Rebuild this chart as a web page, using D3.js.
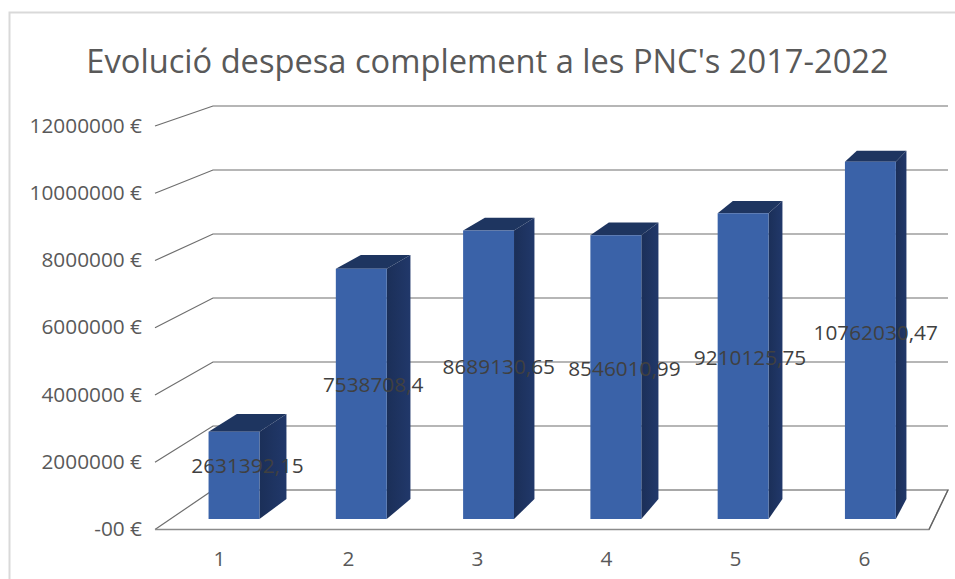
<!DOCTYPE html>
<html><head><meta charset="utf-8">
<script src="https://cdnjs.cloudflare.com/ajax/libs/d3/7.8.5/d3.min.js"></script>
<style>html,body{margin:0;padding:0;background:#fff}svg{display:block}text{font-family:"Open Sans",sans-serif}</style>
</head><body><div id="c"></div>
<script>
const title = "Evolució despesa complement a les PNC's 2017-2022";
const categories = ["1","2","3","4","5","6"];
const values = [2631392.15, 7538708.4, 8689130.65, 8546010.99, 9210125.75, 10762030.47];
const valueLabels = ["2631392,15","7538708,4","8689130,65","8546010,99","9210125,75","10762030,47"];
const ticks = [0,2000000,4000000,6000000,8000000,10000000,12000000];
const tickLabels = ["-00 €","2000000 €","4000000 €","6000000 €","8000000 €","10000000 €","12000000 €"];

const W=955,H=579;
const svg=d3.select("#c").append("svg").attr("width",W).attr("height",H);
const defs=svg.append("defs");
const grad=defs.append("linearGradient").attr("id","side").attr("x1",0).attr("x2",1).attr("y1",0).attr("y2",0);
grad.append("stop").attr("offset",0).attr("stop-color","#1b2f58");
grad.append("stop").attr("offset",1).attr("stop-color","#21386a");

const xFront=d3.scaleBand().domain(categories).range([155,929]);
const xBack=d3.scaleBand().domain(categories).range([213,948]);
const yFront=d3.scaleLinear().domain([0,12000000]).range([529.5,126]);
const yBack=d3.scaleLinear().domain([0,12000000]).range([490,106]);
const tFront=0.265,tBack=0.77,barFrac=0.4;
const lerp=(a,b,t)=>a+(b-a)*t;
function px(cat,f,t){
  const a=xFront(cat)+f*xFront.bandwidth(), b=xBack(cat)+f*xBack.bandwidth();
  return lerp(a,b,t);
}
const py=(v,t)=>lerp(yFront(v),yBack(v),t);
const [x0,x1]=xFront.range(),[bx0,bx1]=xBack.range();

svg.append("path").attr("d",`M9.5,579V12.5H${W}`).attr("fill","none").attr("stroke","#d9d9d9").attr("stroke-width",2);

svg.append("text").attr("x",487.5).attr("y",73).attr("text-anchor","middle").attr("font-size",32.65).attr("fill","#595959").text(title);

const grid=svg.append("g").attr("fill","none");
grid.selectAll("path.w").data(ticks).join("path").attr("class","w")
  .attr("d",v=>`M${x0},${yFront(v)}L${bx0},${yBack(v)}`+(v===0?"":`H${bx1}`))
  .attr("stroke","#6e6e6e").attr("stroke-width",1.2);
grid.append("path").attr("d",`M${x0},${yFront(0)}H${x1}L${bx1},${yBack(0)}H${bx0}`).attr("stroke","#8c8c8c").attr("stroke-width",1.4);
grid.append("path").attr("d",`M${x1},${yFront(0)}L${bx1},${yBack(0)}`).attr("stroke","#606060").attr("stroke-width",1.2);

svg.append("g").selectAll("text").data(ticks).join("text")
  .attr("x",142).attr("y",v=>yFront(v)+6.5).attr("text-anchor","end").attr("font-size",20.8).attr("fill","#595959")
  .text((v,i)=>tickLabels[i]);
svg.append("g").selectAll("text").data(categories).join("text")
  .attr("x",c=>xFront(c)+xFront.bandwidth()/2).attr("y",566).attr("text-anchor","middle").attr("font-size",20.8).attr("fill","#595959").text(c=>c);

const f0=0.5-barFrac/2,f1=0.5+barFrac/2;
const poly=a=>a.map(p=>p.join(",")).join(" ");
const rows=categories.map((c,i)=>({c,v:values[i],l:valueLabels[i]}));
const bars=svg.append("g").selectAll("g").data(rows).join("g");
bars.append("polygon").attr("fill","url(#side)")
  .attr("points",d=>poly([[px(d.c,f1,tFront),py(0,tFront)],[px(d.c,f1,tBack),py(0,tBack)],[px(d.c,f1,tBack),py(d.v,tBack)],[px(d.c,f1,tFront),py(d.v,tFront)]]));
bars.append("polygon").attr("fill","#1e3560")
  .attr("points",d=>poly([[px(d.c,f0,tFront),py(d.v,tFront)],[px(d.c,f1,tFront),py(d.v,tFront)],[px(d.c,f1,tBack),py(d.v,tBack)],[px(d.c,f0,tBack),py(d.v,tBack)]]));
bars.append("polygon").attr("fill","#3a62a8")
  .attr("points",d=>poly([[px(d.c,f0,tFront),py(0,tFront)],[px(d.c,f1,tFront),py(0,tFront)],[px(d.c,f1,tFront),py(d.v,tFront)],[px(d.c,f0,tFront),py(d.v,tFront)]]));

svg.append("g").selectAll("text").data(rows).join("text")
  .attr("x",d=>(px(d.c,f0,tFront)+px(d.c,f1,tBack))/2)
  .attr("y",d=>(py(d.v/2,tFront)+py(d.v/2,tBack))/2+7)
  .attr("text-anchor","middle").attr("font-size",20.8).attr("fill","#404040").text(d=>d.l);
</script></body></html>
